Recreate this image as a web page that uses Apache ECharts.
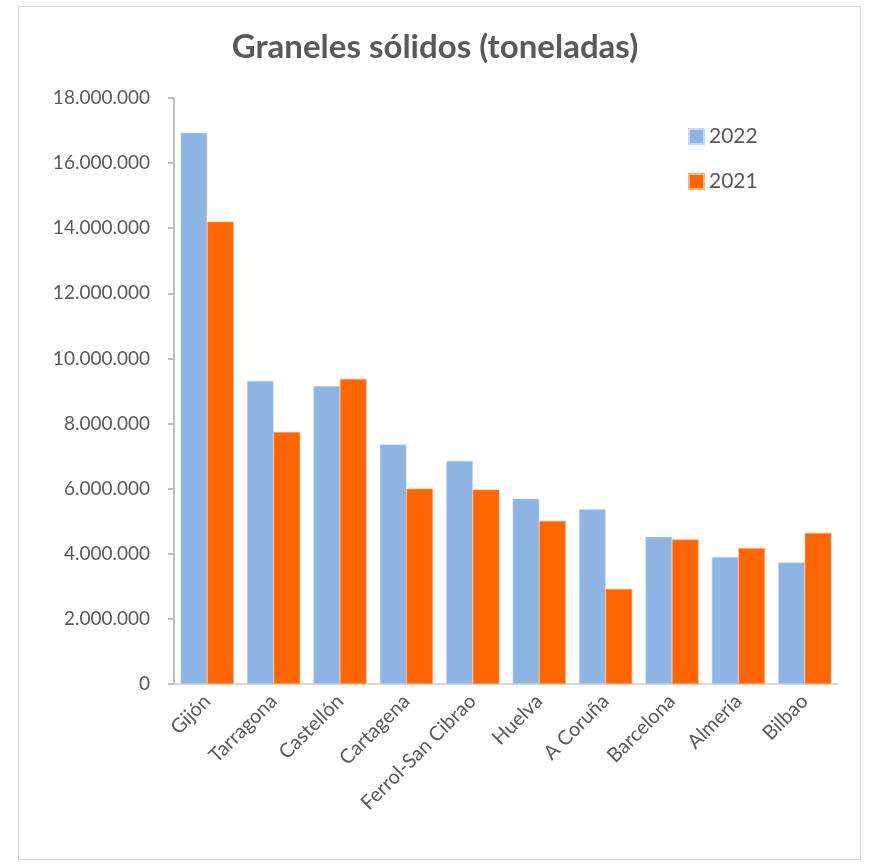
<!DOCTYPE html>
<html><head><meta charset="utf-8">
<script src="https://cdn.jsdelivr.net/npm/echarts@6/dist/echarts.min.js"></script>
<style>html,body{margin:0;padding:0;background:#fff}#c{width:870px;height:868px}</style>
</head><body><div id="c"></div>
<script>
const categories = ["Gijón","Tarragona","Castellón","Cartagena","Ferrol-San Cibrao","Huelva","A Coruña","Barcelona","Almería","Bilbao"];
const values2022 = [16930000, 9310000, 9150000, 7360000, 6850000, 5690000, 5370000, 4520000, 3900000, 3730000];
const values2021 = [14200000, 7740000, 9370000, 6000000, 5970000, 5010000, 2920000, 4440000, 4170000, 4640000];
const yTicks = {min: 0, max: 18000000, interval: 2000000};

function fmt(v){ return String(v).replace(/\B(?=(\d{3})+(?!\d))/g, '.'); }

const chart = echarts.init(document.getElementById('c'));
const txt = '#595959';
const font = 'Lato';
chart.setOption({
  animation: false,
  backgroundColor: '#fff',
  graphic: [{type:'rect', shape:{x:18.5,y:6.5,width:842,height:853}, style:{fill:'none', stroke:'#d9d9d9', lineWidth:1}, silent:true}],
  title: {text: 'Graneles sólidos (toneladas)', left: 'center', top: 26,
    textStyle: {fontFamily: font, fontWeight: 'bold', fontSize: 33, color: txt}},
  legend: {orient: 'vertical', left: 683, top: 121, itemGap: 24, itemWidth: 15, itemHeight: 15, icon: 'rect',
    textStyle: {fontFamily: font, fontSize: 21, color: txt, padding:[0,0,0,0]},
    data: ['2022','2021']},
  grid: {left: 174, right: 32, top: 98, bottom: 184, containLabel: false},
  xAxis: {type: 'category', data: categories,
    axisLine: {lineStyle: {color: '#d9d9d9', width: 2}},
    axisTick: {show: false},
    axisLabel: {rotate: 45, fontFamily: font, fontSize: 20, color: txt, margin: 14, interval: 0}},
  yAxis: {type: 'value', min: yTicks.min, max: yTicks.max, interval: yTicks.interval,
    splitLine: {show: false},
    axisLine: {show: true, lineStyle: {color: '#bfbfbf', width: 2}},
    axisTick: {show: true, length: 6, lineStyle: {color: '#bfbfbf', width: 2}},
    axisLabel: {fontFamily: font, fontSize: 19, color: txt, margin: 24, formatter: fmt}},
  series: [
    {name: '2022', type: 'bar', data: values2022, barGap: '0%', barCategoryGap: '20%',
     itemStyle: {color: '#8EB4E3', borderColor: '#c6daf3', borderWidth: 0.5}},
    {name: '2021', type: 'bar', data: values2021, barGap: '0%', barCategoryGap: '20%',
     itemStyle: {color: '#FF6600', borderColor: '#ffb07a', borderWidth: 0.5}}
  ]
});
</script></body></html>
